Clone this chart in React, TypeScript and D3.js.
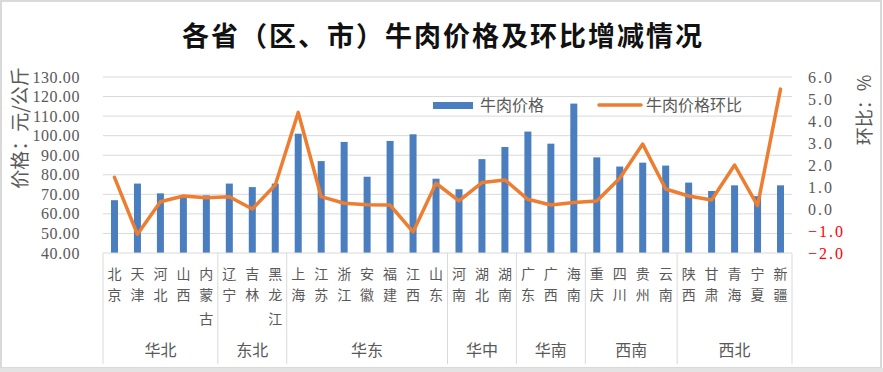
import React from "react";
import * as d3 from "d3";

const provinces = ["北京","天津","河北","山西","内蒙古","辽宁","吉林","黑龙江","上海","江苏","浙江","安徽","福建","江西","山东","河南","湖北","湖南","广东","广西","海南","重庆","四川","贵州","云南","陕西","甘肃","青海","宁夏","新疆"];
const prices = [67, 75.5, 70.5, 68.8, 69.5, 75.5, 73.7, 75.5, 101, 87, 96.8, 79, 97.3, 100.7, 78, 72.6, 88, 94.2, 102.1, 95.9, 116.4, 88.9, 84.2, 86.2, 84.7, 76, 71.7, 74.6, 69.1, 74.6];
const mom = [1.44, -1.15, 0.33, 0.59, 0.51, 0.56, 0.0, 1.09, 4.39, 0.56, 0.26, 0.19, 0.18, -1.04, 1.17, 0.37, 1.2, 1.32, 0.44, 0.18, 0.3, 0.36, 1.4, 2.95, 0.91, 0.59, 0.41, 2.0, 0.15, 5.45];
const groups = ["华北","东北","华东","华中","华南","西南","西北"];
const groupSizes = [5, 3, 7, 3, 3, 4, 5];
const leftTicks = [40, 50, 60, 70, 80, 90, 100, 110, 120, 130];
const rightTicks = [-2, -1, 0, 1, 2, 3, 4, 5, 6];

const W = 883, H = 372;
const X0 = 103, X1 = 792, YB = 253, YT = 77;
const grey = "#595959";

export default function App() {
  const x = d3.scaleBand<string>().domain(provinces).range([X0, X1]).paddingInner(0).paddingOuter(0);
  const yL = d3.scaleLinear().domain([40, 130]).range([YB, YT]);
  const yR = d3.scaleLinear().domain([-2, 6]).range([YB, YT]);
  const bw = 7;
  const cx = (p: string) => (x(p) as number) + x.bandwidth() / 2;
  const line = d3.line<number>().x((_, i) => cx(provinces[i])).y((d) => yR(d));

  const bounds: number[] = [0];
  groupSizes.forEach((s, i) => bounds.push(bounds[i] + s));
  const bx = (k: number) => X0 + k * x.bandwidth();

  const rowY = [274, 295, 319];
  const cjk = "'Noto Sans CJK SC', 'Noto Sans', sans-serif";
  const num = "'Liberation Serif', 'DejaVu Serif', serif";

  return (
    <svg width={W} height={H} style={{ position: "absolute", left: 0, top: 0, background: "#fff" }}>
      <rect x={1} y={1} width={W - 3} height={H - 5} fill="#fff" stroke="#d9d9d9" strokeWidth={2} />
      <rect x={0} y={H - 4} width={W} height={4} fill="#e3e3e3" />
      <text x={443} y={46} textAnchor="middle" fontFamily={cjk} fontWeight={600} fontSize={27} letterSpacing={2} fill="#111">
        各省（区、市）牛肉价格及环比增减情况
      </text>
      {leftTicks.slice(1).map((t) => (
        <line key={t} x1={X0} x2={X1} y1={yL(t)} y2={yL(t)} stroke="#d9d9d9" strokeWidth={1} />
      ))}
      {prices.map((v, i) => (
        <rect key={i} x={cx(provinces[i]) - bw / 2} y={yL(v)} width={bw} height={YB - yL(v)} fill="#4a7ebe" />
      ))}
      <line x1={X0} x2={X1} y1={YB} y2={YB} stroke="#d9d9d9" strokeWidth={1} />
      {bounds.map((k, i) => (
        <line key={i} x1={bx(k)} x2={bx(k)} y1={YB} y2={364} stroke="#d9d9d9" strokeWidth={1} />
      ))}
      <path d={line(mom) || ""} fill="none" stroke="#ed7d31" strokeWidth={3.5} strokeLinejoin="round" strokeLinecap="round" />
      {leftTicks.map((t) => (
        <text key={t} x={80} y={yL(t)} dy="0.35em" textAnchor="end" fontFamily={num} fontSize={16} letterSpacing={0.6} fill={grey}>
          {d3.format(".2f")(t)}
        </text>
      ))}
      {rightTicks.map((t) => (
        <text key={t} x={808} y={yR(t)} dy="0.35em" textAnchor="start" fontFamily={num} fontSize={16} letterSpacing={2} fill={t < 0 ? "#ff0000" : grey}>
          {d3.format(".1f")(t)}
        </text>
      ))}
      {provinces.map((p) =>
        Array.from(p).map((ch, j) => (
          <text key={p + j} x={cx(p)} y={rowY[j]} dy="0.35em" textAnchor="middle" fontFamily={cjk} fontSize={14} fill={grey}>
            {ch}
          </text>
        ))
      )}
      {groups.map((g, i) => (
        <text key={g} x={(bx(bounds[i]) + bx(bounds[i + 1])) / 2} y={350} dy="0.35em" textAnchor="middle" fontFamily={cjk} fontSize={16} fill={grey}>
          {g}
        </text>
      ))}
      <text transform="translate(20,128) rotate(-90)" textAnchor="middle" dy="0.35em" fontFamily={cjk} fontSize={19} fill={grey}>
        价格：元/公斤
      </text>
      <text transform="translate(865,110) rotate(-90)" textAnchor="middle" dy="0.35em" fontFamily={cjk} fontSize={18} fill={grey}>
        环比：%
      </text>
      <rect x={433} y={102} width={40} height={7} fill="#4a7ebe" />
      <text x={480} y={105} dy="0.35em" fontFamily={cjk} fontSize={16} fill={grey}>牛肉价格</text>
      <line x1={599} x2={641} y1={105} y2={105} stroke="#ed7d31" strokeWidth={3.5} strokeLinecap="round" />
      <text x={646} y={105} dy="0.35em" fontFamily={cjk} fontSize={16} fill={grey}>牛肉价格环比</text>
    </svg>
  );
}
